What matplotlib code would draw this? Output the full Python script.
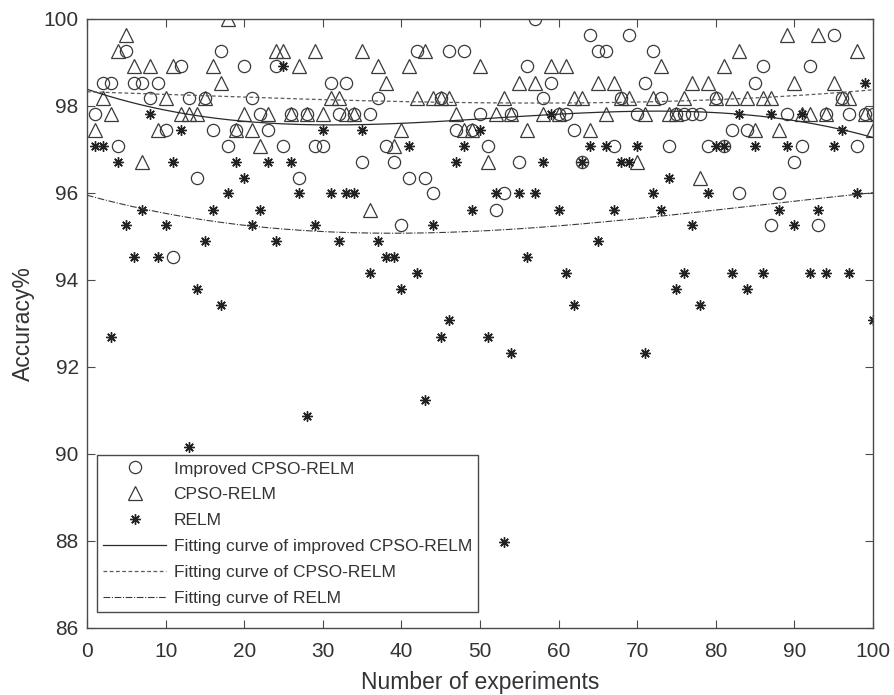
import numpy as np
import matplotlib
matplotlib.use("Agg")
import matplotlib.pyplot as plt

# ---------------- data ----------------
experiments = list(range(1, 101))

improved_cpso_relm = [
    97.81, 98.54, 98.54, 97.08, 99.27, 98.54, 98.54, 98.18, 98.54, 97.45,
    94.53, 98.91, 98.18, 96.35, 98.18, 97.45, 99.27, 97.08, 97.45, 98.91,
    98.18, 97.81, 97.45, 98.91, 97.08, 97.81, 96.35, 97.81, 97.08, 97.08,
    98.54, 97.81, 98.54, 97.81, 96.72, 97.81, 98.18, 97.08, 96.72, 95.26,
    96.35, 99.27, 96.35, 95.99, 98.18, 99.27, 97.45, 99.27, 97.45, 97.81,
    97.08, 95.62, 95.99, 97.81, 96.72, 98.91, 100.0, 98.18, 98.54, 97.81,
    97.81, 97.45, 96.72, 99.64, 99.27, 99.27, 97.08, 98.18, 99.64, 97.81,
    98.54, 99.27, 98.18, 97.08, 97.81, 97.81, 97.81, 97.81, 97.08, 98.18,
    97.08, 97.45, 95.99, 97.45, 98.54, 98.91, 95.26, 95.99, 97.81, 96.72,
    97.08, 98.91, 95.26, 97.81, 99.64, 98.18, 97.81, 97.08, 97.81, 97.81,
]

cpso_relm = [
    97.45, 98.18, 97.81, 99.27, 99.64, 98.91, 96.72, 98.91, 97.45, 98.18,
    98.91, 97.81, 97.81, 97.81, 98.18, 98.91, 98.54, 100.0, 97.45, 97.81,
    97.45, 97.08, 97.81, 99.27, 99.27, 97.81, 98.91, 97.81, 99.27, 97.81,
    98.18, 98.18, 97.81, 97.81, 99.27, 95.62, 98.91, 98.54, 97.08, 97.45,
    98.91, 98.18, 99.27, 98.18, 98.18, 98.18, 97.81, 97.45, 97.45, 98.91,
    96.72, 97.81, 98.18, 97.81, 98.54, 97.45, 98.54, 97.81, 98.91, 97.81,
    98.91, 98.18, 98.18, 97.45, 98.54, 97.81, 98.54, 98.18, 98.18, 96.72,
    97.81, 98.18, 98.91, 97.81, 97.81, 98.18, 98.54, 96.35, 98.54, 98.18,
    98.91, 98.18, 99.27, 98.18, 97.45, 98.18, 98.18, 97.45, 99.64, 98.54,
    97.81, 97.81, 99.64, 97.81, 98.54, 98.18, 98.18, 99.27, 97.81, 97.45,
]

relm = [
    97.08, 97.08, 92.70, 96.72, 95.26, 94.53, 95.62, 97.81, 94.53, 95.26,
    96.72, 97.45, 90.15, 93.80, 94.89, 95.62, 93.43, 95.99, 96.72, 96.35,
    95.26, 95.62, 96.72, 94.89, 98.91, 96.72, 95.99, 90.87, 95.26, 97.45,
    95.99, 94.89, 95.99, 95.99, 97.45, 94.16, 94.89, 94.53, 94.53, 93.80,
    97.08, 94.16, 91.24, 95.26, 92.70, 93.07, 96.72, 97.08, 95.62, 97.45,
    92.70, 95.99, 87.97, 92.33, 95.99, 94.53, 95.99, 96.72, 97.81, 95.62,
    94.16, 93.43, 96.72, 97.08, 94.89, 97.08, 95.62, 96.72, 96.72, 97.08,
    92.33, 95.99, 95.62, 96.35, 93.80, 94.16, 95.26, 93.43, 95.99, 97.08,
    97.08, 94.16, 97.81, 93.80, 97.08, 94.16, 97.81, 95.62, 97.08, 95.26,
    97.81, 94.16, 95.62, 94.16, 97.08, 97.45, 94.16, 95.99, 98.54, 93.07,
]

x_ticks = [0, 10, 20, 30, 40, 50, 60, 70, 80, 90, 100]
y_ticks = [86, 88, 90, 92, 94, 96, 98, 100]
legend_labels = [
    "Improved CPSO-RELM",
    "CPSO-RELM",
    "RELM",
    "Fitting curve of improved CPSO-RELM",
    "Fitting curve of CPSO-RELM",
    "Fitting curve of RELM",
]
fit_degree = 3

# ---------------- plot ----------------
plt.rcParams['font.family'] = ['Liberation Sans', 'DejaVu Sans']
axis_col = '#4a4a4a'
text_col = '#333333'

fig = plt.figure(figsize=(8.95, 6.95), dpi=100)
ax = fig.add_axes([87/895, 1 - 628/695, 786/895, 609/695])

mk_col = '#3a3a3a'
h1, = ax.plot(experiments, improved_cpso_relm, linestyle='none', marker='o',
              ms=8.8, mfc='none', mec=mk_col, mew=0.9, label=legend_labels[0])
h2, = ax.plot(experiments, cpso_relm, linestyle='none', marker='^',
              ms=9.5, mfc='none', mec=mk_col, mew=0.9, label=legend_labels[1])
h3, = ax.plot(experiments, relm, linestyle='none', marker=(8, 2, 0),
              ms=7.5, mfc='none', mec='#222222', mew=1.0, label=legend_labels[2])

xs = np.linspace(0, 100, 300)
p1 = np.polyfit(experiments, improved_cpso_relm, fit_degree)
p2 = np.polyfit(experiments, cpso_relm, fit_degree)
p3 = np.polyfit(experiments, relm, fit_degree)
h4, = ax.plot(xs, np.polyval(p1, xs), color='#2a2a2a', lw=0.9, ls='-',
              label=legend_labels[3])
h5, = ax.plot(xs, np.polyval(p2, xs), color='#5a5a5a', lw=0.9, ls=(0, (3, 2)),
              label=legend_labels[4])
h6, = ax.plot(xs, np.polyval(p3, xs), color='#3a3a3a', lw=0.8,
              ls=(0, (6, 1.5, 1, 1.5)), label=legend_labels[5])

ax.set_xlim(0, 100)
ax.set_ylim(86, 100)
ax.set_xticks(x_ticks)
ax.set_yticks(y_ticks)
ax.tick_params(axis='both', direction='in', length=6, width=0.8,
               colors=axis_col, labelcolor=text_col, labelsize=15,
               top=True, right=True)
ax.tick_params(axis='x', pad=10)
ax.tick_params(axis='y', pad=6)
for s in ax.spines.values():
    s.set_color(axis_col)
    s.set_linewidth(1.0)

ax.set_xlabel("Number of experiments", fontsize=16.5, color=text_col, labelpad=7)
ax.set_ylabel("Accuracy%", fontsize=16.5, color=text_col, labelpad=6)

leg = ax.legend(handles=[h1, h2, h3, h4, h5, h6], loc='lower left',
                bbox_to_anchor=(0.013, 0.026), borderaxespad=0,
                fontsize=12.5, frameon=True, fancybox=False,
                edgecolor=axis_col, framealpha=1, handlelength=3.6,
                handletextpad=0.45, labelspacing=0.62, borderpad=0.35)
leg.get_frame().set_linewidth(1.0)
for t in leg.get_texts():
    t.set_color(text_col)

fig.savefig("out.png", dpi=100)
